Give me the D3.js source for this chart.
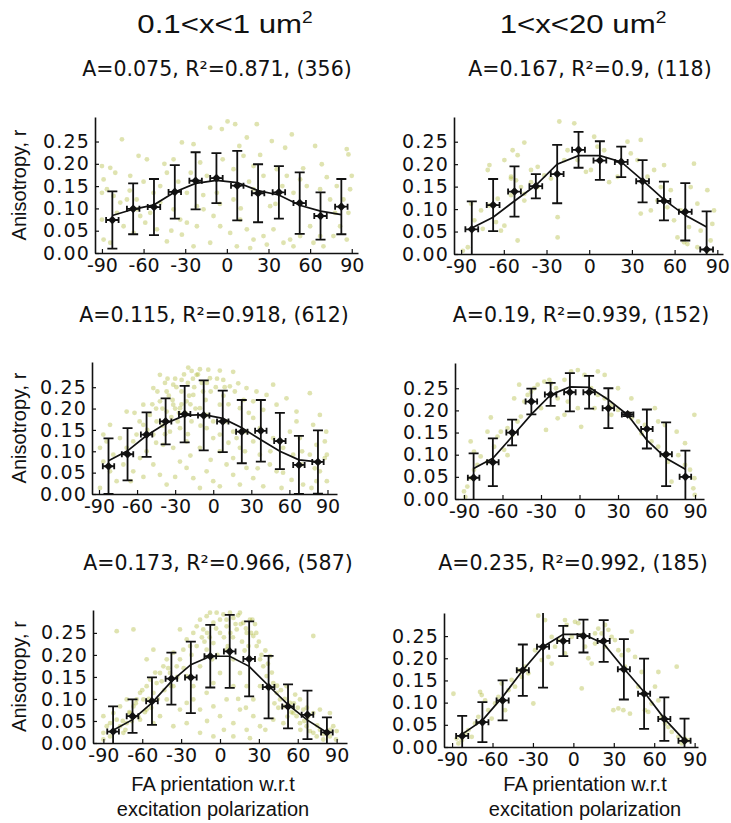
<!DOCTYPE html>
<html>
<head>
<meta charset="utf-8">
<script src="https://cdnjs.cloudflare.com/ajax/libs/d3/7.8.5/d3.min.js"></script>
<style>
  body { margin: 0; background: #fff; }
</style>
</head>
<body>
<script>
// ---- data ----
const binAngles = [-82.5, -67.5, -52.5, -37.5, -22.5, -7.5, 7.5, 22.5, 37.5, 52.5, 67.5, 82.5];
const angleSpread = 4.5;
const xTicks = [-90, -60, -30, 0, 30, 60, 90];
const yTicks = [0, 0.05, 0.10, 0.15, 0.20, 0.25];

const columnTitles = ["0.1<x<1 um", "1<x<20 um"];
const fitAmplitude = ["0.075", "0.167", "0.115", "0.19", "0.173", "0.235"];
const fitR2 = ["0.871", "0.9", "0.918", "0.939", "0.966", "0.992"];
const cellCounts = ["356", "118", "612", "152", "587", "185"];

const meanR = [
  [0.074, 0.099, 0.103, 0.137, 0.162, 0.168, 0.151, 0.134, 0.136, 0.112, 0.083, 0.104],
  [0.055, 0.109, 0.139, 0.151, 0.178, 0.232, 0.208, 0.205, 0.162, 0.118, 0.094, 0.010],
  [0.065, 0.093, 0.139, 0.170, 0.187, 0.184, 0.170, 0.146, 0.148, 0.124, 0.068, 0.075],
  [0.048, 0.083, 0.150, 0.220, 0.236, 0.241, 0.241, 0.205, 0.191, 0.158, 0.101, 0.050],
  [0.026, 0.061, 0.095, 0.146, 0.149, 0.197, 0.208, 0.191, 0.127, 0.083, 0.064, 0.024],
  [0.025, 0.056, 0.105, 0.173, 0.226, 0.239, 0.250, 0.239, 0.175, 0.120, 0.063, 0.014]
];
const errR = [
  [0.064, 0.057, 0.063, 0.060, 0.064, 0.056, 0.078, 0.065, 0.059, 0.069, 0.053, 0.062],
  [0.062, 0.058, 0.056, 0.027, 0.065, 0.040, 0.043, 0.034, 0.047, 0.043, 0.064, 0.085],
  [0.065, 0.061, 0.052, 0.054, 0.066, 0.082, 0.072, 0.074, 0.072, 0.066, 0.068, 0.074],
  [0.055, 0.054, 0.029, 0.029, 0.026, 0.043, 0.037, 0.045, 0.004, 0.044, 0.072, 0.059],
  [0.057, 0.038, 0.054, 0.059, 0.081, 0.071, 0.083, 0.085, 0.071, 0.050, 0.055, 0.034],
  [0.045, 0.045, 0.045, 0.058, 0.092, 0.034, 0.037, 0.047, 0.068, 0.079, 0.049, 0.050]
];
const fitR = [
  [0.084, 0.098, 0.108, 0.137, 0.156, 0.163, 0.158, 0.140, 0.130, 0.107, 0.094, 0.086],
  [0.058, 0.082, 0.118, 0.153, 0.200, 0.219, 0.219, 0.205, 0.164, 0.121, 0.086, 0.060],
  [0.078, 0.101, 0.137, 0.165, 0.184, 0.186, 0.177, 0.155, 0.127, 0.100, 0.080, 0.075],
  [0.069, 0.092, 0.141, 0.191, 0.235, 0.253, 0.252, 0.224, 0.190, 0.133, 0.092, 0.067],
  [0.029, 0.053, 0.091, 0.140, 0.178, 0.197, 0.197, 0.174, 0.130, 0.087, 0.052, 0.024],
  [0.029, 0.060, 0.113, 0.173, 0.226, 0.254, 0.254, 0.233, 0.177, 0.124, 0.064, 0.015]
];

// single cells [angle, r]
const cells1 = [[0.5,0.295],[6,0.289],[21.6,0.289],[14.4,0.259],[-12,0.281],[-3.6,0.278],[32.4,0.251],[42,0.236],[46.8,0.266],[63.6,0.24],[68.4,0.199],[86.4,0.233],[87.6,0.221],[-75.6,0.255],[-63.6,0.218],[-57.6,0.21],[-84,0.191],[-80.4,0.18],[-69.6,0.173],[-43.2,0.18],[-38.4,0.21],[-32.4,0.248],[-24,0.244],[-19.2,0.203],[-14.4,0.173],[4.8,0.188],[12,0.218],[19.2,0.195],[26.4,0.173],[36,0.188],[43.2,0.173],[52.8,0.165],[57.6,0.15],[67.2,0.143],[74.4,0.12],[79.2,0.15],[84,0.12],[-90,0.135],[-86.4,0.143],[-81.6,0.128],[-76.8,0.113],[-72,0.12],[-64.8,0.098],[-62.4,0.083],[-58.8,0.068],[-55.2,0.09],[-48,0.113],[-38.4,0.098],[-33.6,0.075],[-28.8,0.068],[-21.6,0.06],[-16.8,0.098],[-9.6,0.083],[-4.8,0.06],[2.4,0.045],[9.6,0.075],[14.4,0.053],[19.2,0.03],[26.4,0.038],[33.6,0.053],[40.8,0.023],[45.6,0.03],[52.8,0.038],[62.4,0.023],[69.6,0.015],[76.8,0.038],[86.4,0.03],[-90,0.075],[-88.8,0.03],[-84,0.023],[-74.4,0.06],[-67.2,0.045],[-50.4,0.053],[-43.2,0.026],[-32.4,0.041],[-24,0.015],[-12,0.023],[7.2,0.015],[16.8,0.011],[28.8,0.019],[48,0.015],[67.2,0.038],[81.6,0.06],[87.6,0.09],[88.8,0.143],[-90,0.195],[-88.8,0.165],[90,0.173],[-48,0.15],[-7.2,0.135],[-28.8,0.135],[48,0.135],[4.8,0.12],[19.2,0.143],[31.2,0.105],[-21.6,0.105],[-52.8,0.135],[-79.2,0.09],[-70,0.14],[-60,0.16],[-45,0.2],[-35,0.16],[-26,0.18],[-17,0.13],[-3,0.21],[9,0.24],[16,0.16],[24,0.22],[40,0.15],[55,0.19],[72,0.17],[78,0.09],[60,0.06],[35,0.11],[10,0.1],[-5,0.11],[-40,0.05],[-65,0.12]];
const cells2 = [[-21,0.295],[-10.5,0.291],[-45.6,0.248],[-53.8,0.231],[-50.3,0.22],[-70.1,0.198],[-71.3,0.187],[-59.6,0.209],[-54.9,0.172],[-51.4,0.164],[-47.9,0.149],[-40.9,0.187],[-36.2,0.194],[-31.6,0.175],[-26.9,0.168],[-36.2,0.149],[-45.6,0.134],[-54.9,0.131],[-64.3,0.123],[-70.1,0.108],[-76,0.097],[-83,0.112],[-80.7,0.075],[-74.8,0.056],[-65.5,0.071],[-59.6,0.063],[-62,0.052],[-50.3,0.03],[-54.9,0.168],[-45.6,0.119],[-40.9,0.16],[3.5,0.261],[5.8,0.239],[10.5,0.231],[1.2,0.187],[-2.3,0.183],[-8.2,0.209],[14,0.16],[19.9,0.172],[26.9,0.25],[29.2,0.224],[36.2,0.254],[33.9,0.209],[40.9,0.172],[45.6,0.187],[52.6,0.198],[50.3,0.149],[57.3,0.142],[47.9,0.119],[43.3,0.097],[54.9,0.104],[59.6,0.075],[64.3,0.097],[73.6,0.201],[71.3,0.149],[76,0.112],[83,0.142],[87.7,0.097],[86.5,0.067],[78.3,0.052],[70.1,0.06],[66.6,0.026],[62,0.037],[36.2,0.09],[-22.2,0.082],[-22.2,0.037],[-17.5,0.209],[-15.2,0.231],[-88.8,0.007],[-85.3,0.015],[83,0.007],[76,0.015],[69,0.022],[85.3,0.03]];
const cells3 = [[-19.7,0.296],[-10.5,0.292],[-3.9,0.291],[5.2,0.289],[15.7,0.286],[-13.1,0.279],[-24.9,0.267],[-31.5,0.256],[-36.7,0.24],[-42,0.279],[-2.6,0.271],[7.9,0.267],[13.1,0.252],[19.7,0.259],[26.2,0.248],[34.1,0.24],[42,0.232],[47.2,0.256],[31.5,0.217],[39.4,0.197],[49.9,0.209],[57.7,0.224],[65.6,0.193],[76.1,0.236],[78.7,0.162],[84,0.185],[89,0.146],[68.2,0.131],[60.4,0.146],[55.1,0.108],[63,0.092],[69.5,0.069],[76.1,0.092],[84,0.053],[87.9,0.084],[89.5,0.03],[77.4,0.014],[81.3,0.03],[70.8,0.022],[61.7,0.033],[53.8,0.014],[49.9,0.053],[44.6,0.069],[36.7,0.092],[31.5,0.123],[26.2,0.146],[21,0.108],[15.7,0.084],[10.5,0.069],[5.2,0.1],[0,0.131],[-5.2,0.154],[-10.5,0.201],[-15.7,0.232],[-21,0.217],[-26.2,0.201],[-31.5,0.209],[-36.7,0.193],[-42,0.217],[-44.6,0.17],[-47.2,0.139],[-49.9,0.185],[-55.1,0.162],[-60.4,0.139],[-63,0.123],[-68.2,0.108],[-73.5,0.131],[-78.7,0.092],[-84,0.123],[-89.2,0.108],[-86.6,0.076],[-81.3,0.053],[-76.1,0.03],[-89.2,0.014],[-70.8,0.069],[-63,0.053],[-57.7,0.084],[-52.5,0.1],[-47.2,0.069],[-42,0.045],[-36.7,0.022],[-31.5,0.108],[-26.2,0.076],[-21,0.061],[-15.7,0.037],[-10.5,0.014],[-5.2,0.053],[0,0.03],[5.2,0.018],[15.7,0.045],[21,0.022],[26.2,0.061],[31.5,0.037],[39.4,0.018],[-26.2,0.154],[-21,0.123],[-10.5,0.108],[-5.2,0.185],[5.2,0.209],[10.5,0.17],[15.7,0.146],[21,0.201],[-47.2,0.248],[-55.1,0.209],[-68.2,0.193],[-81.3,0.162],[-86.6,0.139],[65.6,0.17],[81.3,0.115],[89.5,0.092],[87.9,0.123],[47.2,0.131],[36.7,0.154],[-17.1,0.17],[-34.1,0.146],[-39.4,0.115],[5.2,0.139],[18.4,0.131],[31.5,0.178],[-35,0.23],[-30,0.2],[-25,0.24],[-20,0.26],[-15,0.25],[-28,0.17],[-38,0.26],[-18,0.21],[-8,0.24],[-12,0.28],[-45,0.2],[-33,0.18],[-22,0.19],[-40,0.16],[-5,0.26],[2,0.25],[8,0.23],[-30,0.27],[-25,0.21],[-17,0.288],[-48,0.21],[-44,0.24],[-40,0.2],[-36,0.27],[-32,0.22],[-29,0.25],[-27,0.19],[-23,0.28],[-19,0.23],[-16,0.27],[-14,0.2],[-9,0.26],[-6,0.22],[-2,0.24],[3,0.27],[9,0.25],[12,0.21],[17,0.24],[24,0.22],[28,0.19],[-58,0.17],[-52,0.15],[-62,0.19],[-45,0.12],[-38,0.14],[-20,0.14],[-10,0.16],[0,0.17],[12,0.12],[25,0.1],[35,0.06],[45,0.1],[55,0.05],[70,0.1],[80,0.06],[-65,0.03],[-55,0.04],[-30,0.04],[-18,0.09],[-2,0.08]];
const cells4 = [[-90,0.017],[-87.4,0.028],[-89,0.005],[-84.8,0.047],[-82.2,0.066],[-79.6,0.077],[-84.8,0.13],[-82.2,0.107],[-77,0.096],[-71.7,0.084],[-69.1,0.184],[-71.7,0.152],[-66.5,0.118],[-63.9,0.141],[-61.3,0.152],[-58.7,0.111],[-56.1,0.099],[-52.2,0.145],[-56.1,0.16],[-48.3,0.175],[-45.7,0.186],[-43,0.22],[-40.4,0.235],[-37.8,0.242],[-35.2,0.25],[-32.6,0.258],[-27.4,0.265],[-22.2,0.261],[-23.5,0.269],[-18.3,0.25],[-17,0.227],[-30,0.205],[-26.1,0.156],[-11.7,0.269],[-6.5,0.288],[-1.3,0.291],[3.9,0.28],[14.3,0.288],[19.6,0.28],[9.1,0.25],[14.3,0.235],[19.6,0.227],[24.8,0.212],[11.7,0.205],[-1.3,0.205],[-9.1,0.22],[-11.7,0.19],[-17,0.182],[1.3,0.163],[24.8,0.19],[30,0.201],[37.8,0.194],[40.4,0.182],[45.7,0.175],[48.3,0.148],[50.9,0.167],[58.7,0.205],[61.3,0.175],[66.5,0.167],[56.1,0.13],[61.3,0.118],[66.5,0.099],[69.1,0.084],[75.7,0.152],[71.7,0.039],[77,0.099],[82.2,0.077],[82.2,0.126],[86.1,0.066],[88.7,0.024],[89.5,0.047],[89.8,0.009],[89.5,0.19],[40.4,0.227],[30,0.25],[-47,0.258],[-50.9,0.227]];
const cells5 = [[-90,0.008],[-90,0.023],[-87.4,0.038],[-84.8,0.015],[-82.3,0.027],[-79.7,0.053],[-77.1,0.038],[-74.6,0.023],[-72,0.045],[-69.4,0.068],[-66.8,0.083],[-64.3,0.099],[-61.7,0.114],[-59.1,0.099],[-56.6,0.129],[-54,0.144],[-51.4,0.114],[-48.9,0.136],[-46.3,0.159],[-43.7,0.174],[-41.1,0.19],[-38.6,0.159],[-36,0.205],[-33.4,0.174],[-30.9,0.19],[-28.3,0.212],[-25.7,0.235],[-23.1,0.22],[-20.6,0.25],[-18,0.265],[-15.4,0.28],[-12.9,0.258],[-10.3,0.288],[-7.7,0.296],[-5.1,0.273],[-2.6,0.296],[0,0.28],[2.6,0.292],[5.1,0.265],[7.7,0.296],[10.3,0.284],[12.9,0.258],[15.4,0.296],[18,0.273],[20.6,0.25],[23.1,0.28],[25.7,0.243],[28.3,0.22],[30.9,0.19],[33.4,0.174],[36,0.152],[38.6,0.197],[41.1,0.136],[43.7,0.114],[46.3,0.099],[48.9,0.083],[51.4,0.129],[54,0.091],[56.6,0.068],[59.1,0.061],[61.7,0.045],[64.3,0.076],[66.8,0.038],[69.4,0.027],[72,0.023],[74.6,0.015],[77.1,0.03],[79.7,0.008],[82.3,0.023],[84.8,0.015],[87.4,0.038],[89.5,0.008],[90,0.027],[77.1,0.076],[84.8,0.068],[72,0.068],[61.7,0.099],[48.9,0.045],[41.1,0.053],[30.9,0.038],[25.7,0.061],[20.6,0.03],[15.4,0.076],[10.3,0.045],[5.1,0.099],[0,0.061],[-5.1,0.083],[-10.3,0.114],[-15.4,0.076],[-20.6,0.099],[-25.7,0.045],[-30.9,0.076],[-36,0.038],[-41.1,0.099],[-46.3,0.061],[-51.4,0.045],[-56.6,0.076],[-61.7,0.053],[-72,0.099],[-77.1,0.083],[-82.3,0.068],[-84.8,0.045],[-90,0.061],[-66.8,0.258],[-79.7,0.254],[-56.6,0.19],[-51.4,0.212],[-25.7,0.152],[-15.4,0.174],[-10.3,0.212],[-5.1,0.227],[5.1,0.212],[10.3,0.19],[15.4,0.159],[20.6,0.129],[25.7,0.099],[30.9,0.129],[-5.1,0.136],[0,0.159],[10.3,0.129],[-25.7,0.091],[-15.4,0.023],[-5.1,0.015],[10.3,0.015],[23.1,0.011],[72,0.243],[-20.6,0.129],[-36,0.129],[-30.9,0.258],[12,0.27],[20,0.26],[25,0.28],[8,0.25],[3,0.24],[17,0.23],[28,0.25],[-3,0.26],[-8,0.24],[14,0.29],[22,0.22],[30,0.23],[35,0.21],[-12,0.23],[6,0.22],[45,0.08],[50,0.1],[55,0.07],[60,0.08],[65,0.05],[58,0.11],[42,0.09],[68,0.06],[-60,0.12],[-55,0.1],[-65,0.09],[-50,0.16],[-45,0.14],[-70,0.07],[-75,0.05],[-40,0.17],[0,0.25],[5,0.28],[10,0.24],[16,0.27],[19,0.21],[24,0.25],[27,0.27],[32,0.2],[37,0.18],[-2,0.2],[-6,0.19],[-10,0.25],[-14,0.24],[-18,0.22],[-22,0.2],[-28,0.17],[-33,0.15],[-38,0.13],[-43,0.12],[-48,0.1],[-53,0.08],[-58,0.07],[-63,0.06],[-68,0.05],[-73,0.03],[40,0.16],[44,0.13],[47,0.12],[52,0.06],[57,0.09],[62,0.03],[67,0.08],[75,0.04],[80,0.02],[85,0.03],[14,0.1],[20,0.08],[35,0.03],[-10,0.05],[3,0.03]];
const cells6 = [[-89,0.12],[-86.6,0.019],[-85.3,0.008],[-82.8,0.015],[-80.4,0.03],[-77.9,0.038],[-75.4,0.023],[-73,0.053],[-70.5,0.068],[-69.2,0.124],[-68,0.117],[-65.5,0.105],[-63.1,0.083],[-60.6,0.064],[-58.1,0.098],[-55.6,0.113],[-53.2,0.143],[-50.7,0.083],[-48.2,0.128],[-45.8,0.151],[-43.3,0.136],[-40.8,0.173],[-38.3,0.158],[-35.9,0.181],[-33.4,0.166],[-29.7,0.098],[-26,0.296],[-21,0.286],[-28.4,0.218],[-23.5,0.196],[-18.5,0.203],[-16.1,0.188],[-13.6,0.226],[-11.1,0.241],[-6.2,0.286],[-4.9,0.275],[-1.2,0.248],[1.2,0.282],[3.7,0.279],[6.2,0.252],[8.7,0.226],[11.1,0.2],[13.6,0.188],[16.1,0.233],[18.5,0.267],[21,0.256],[23.5,0.275],[26,0.264],[28.4,0.248],[30.9,0.241],[33.4,0.218],[35.9,0.207],[38.3,0.181],[40.8,0.218],[43.3,0.26],[45.8,0.203],[48.2,0.136],[50.7,0.169],[53.2,0.083],[55.6,0.079],[58.1,0.098],[60.6,0.136],[63.1,0.105],[63.1,0.169],[65.5,0.068],[68,0.053],[70.5,0.045],[73,0.034],[76.7,0.181],[77.9,0.023],[80.4,0.008],[82.8,0.019],[85.3,0.015],[29.7,0.083],[37.1,0.083],[42,0.075],[6.2,0.132],[33.4,0.087],[23.5,0.226],[16.1,0.256],[-6.2,0.211],[-16.1,0.248]];
const cells = [cells1, cells2, cells3, cells4, cells5, cells6];

// ---- layout ----
const W = 731, H = 823;
const frames = [
  { x0: 95,  x1: 358, y0: 117, y1: 253, xd: [-95, 94.5], yd: [0, 0.305], subX: 217, subY: 76 },
  { x0: 454, x1: 723, y0: 117, y1: 254, xd: [-95, 94],   yd: [0, 0.305], subX: 590, subY: 76 },
  { x0: 92,  x1: 337, y0: 362, y1: 494, xd: [-95.5, 97.5], yd: [0, 0.309], subX: 214, subY: 322 },
  { x0: 455, x1: 704, y0: 363, y1: 499, xd: [-97, 97],   yd: [0, 0.307], subX: 581, subY: 322 },
  { x0: 93,  x1: 347, y0: 610, y1: 743, xd: [-98, 98],   yd: [0, 0.302], subX: 218, subY: 570 },
  { x0: 444, x1: 698, y0: 613, y1: 747, xd: [-96, 92.5], yd: [0, 0.302], subX: 573, subY: 570 }
];
const titleX = [225, 583];
const xLabelX = [213, 585];

const svg = d3.select("body").append("svg")
  .attr("width", W).attr("height", H)
  .style("font-family", "'DejaVu Sans', sans-serif");

// column titles with superscript 2 (the source text is stretched sideways)
columnTitles.forEach((t, i) => {
  const tt = svg.append("text")
    .attr("transform", `translate(${titleX[i]},33) scale(1.2,1)`)
    .attr("text-anchor", "middle")
    .style("font-family", "'Liberation Sans', Arial, sans-serif")
    .style("font-size", "26px").attr("fill", "#111")
    .text(t);
  tt.append("tspan").attr("dy", -10).style("font-size", "16px").text("2");
});

const diamond = "M0,-4.3L4.3,0L0,4.3L-4.3,0Z";

frames.forEach((f, p) => {
  const x = d3.scaleLinear().domain(f.xd).range([f.x0, f.x1]);
  const y = d3.scaleLinear().domain(f.yd).range([f.y1, f.y0]);
  const g = svg.append("g");

  svg.append("clipPath").attr("id", "clip" + p)
    .append("rect").attr("x", f.x0).attr("y", f.y0)
    .attr("width", f.x1 - f.x0).attr("height", f.y1 - f.y0);

  const plot = g.append("g").attr("clip-path", `url(#clip${p})`);

  plot.append("g").selectAll("circle")
    .data(cells[p])
    .join("circle")
    .attr("cx", d => x(d[0]))
    .attr("cy", d => y(d[1]))
    .attr("r", 2.4)
    .attr("fill", "#b0ba3a")
    .attr("fill-opacity", 0.4);

  const pts = binAngles.map((a, i) => ({ a, m: meanR[p][i], e: errR[p][i], fit: fitR[p][i] }));

  plot.append("path")
    .datum(pts)
    .attr("fill", "none").attr("stroke", "#111").attr("stroke-width", 1.7)
    .attr("d", d3.line().x(d => x(d.a)).y(d => y(d.fit)));

  const eb = plot.append("g").attr("stroke", "#111").attr("stroke-width", 1.8).attr("fill", "none");
  eb.selectAll("path.v").data(pts).join("path").attr("class", "v")
    .attr("d", d => {
      const cx = x(d.a), t = y(d.m + d.e), b = y(d.m - d.e);
      return `M${cx},${t}V${b}M${cx - 5},${t}H${cx + 5}M${cx - 5},${b}H${cx + 5}`;
    });
  eb.selectAll("path.h").data(pts).join("path").attr("class", "h")
    .attr("d", d => {
      const cy = y(d.m), l = x(d.a - angleSpread), r = x(d.a + angleSpread);
      return `M${l},${cy}H${r}M${l},${cy - 3}V${cy + 3}M${r},${cy - 3}V${cy + 3}`;
    });

  plot.append("g").selectAll("path")
    .data(pts).join("path")
    .attr("d", diamond)
    .attr("transform", d => `translate(${x(d.a)},${y(d.m)})`)
    .attr("fill", "#111");

  // axes: ticks point inward, only left/bottom spines
  const xa = g.append("g").attr("transform", `translate(0,${f.y1})`)
    .call(d3.axisBottom(x).tickValues(xTicks).tickFormat(d => String(d))
      .tickSize(-4).tickSizeOuter(0).tickPadding(6));
  const ya = g.append("g").attr("transform", `translate(${f.x0},0)`)
    .call(d3.axisLeft(y).tickValues(yTicks).tickFormat(d3.format(".2f"))
      .tickSize(-4).tickSizeOuter(0).tickPadding(5));
  [xa, ya].forEach(a => {
    a.select(".domain").attr("stroke", "#111").attr("stroke-width", 1.6);
    a.selectAll(".tick line").attr("stroke", "#111").attr("stroke-width", 1.2);
    a.selectAll("text").attr("fill", "#111")
      .style("font-family", "'DejaVu Sans', sans-serif")
      .style("font-size", "19px");
  });
  ya.selectAll("text").style("letter-spacing", "1.2px");

  svg.append("text")
    .attr("x", f.subX).attr("y", f.subY)
    .attr("text-anchor", "middle")
    .style("font-size", "20.5px").attr("fill", "#111")
    .text(`A=${fitAmplitude[p]}, R\u00b2=${fitR2[p]}, (${cellCounts[p]})`);

  if (p % 2 === 0) {
    svg.append("text")
      .attr("transform", `translate(26,${(f.y0 + f.y1) / 2}) rotate(-90)`)
      .attr("text-anchor", "middle")
      .style("font-family", "'Liberation Sans', Arial, sans-serif")
      .style("font-size", "20px").attr("fill", "#111")
      .text("Anisotropy, r");
  }
});

// bottom axis titles
xLabelX.forEach(cx => {
  const t = svg.append("text")
    .attr("x", cx).attr("y", 791)
    .attr("text-anchor", "middle")
    .style("font-family", "'Liberation Sans', Arial, sans-serif")
    .style("font-size", "20px").attr("fill", "#111");
  t.append("tspan").attr("x", cx).text("FA prientation w.r.t");
  t.append("tspan").attr("x", cx).attr("dy", 25).text("excitation polarization");
});
</script>
</body>
</html>
